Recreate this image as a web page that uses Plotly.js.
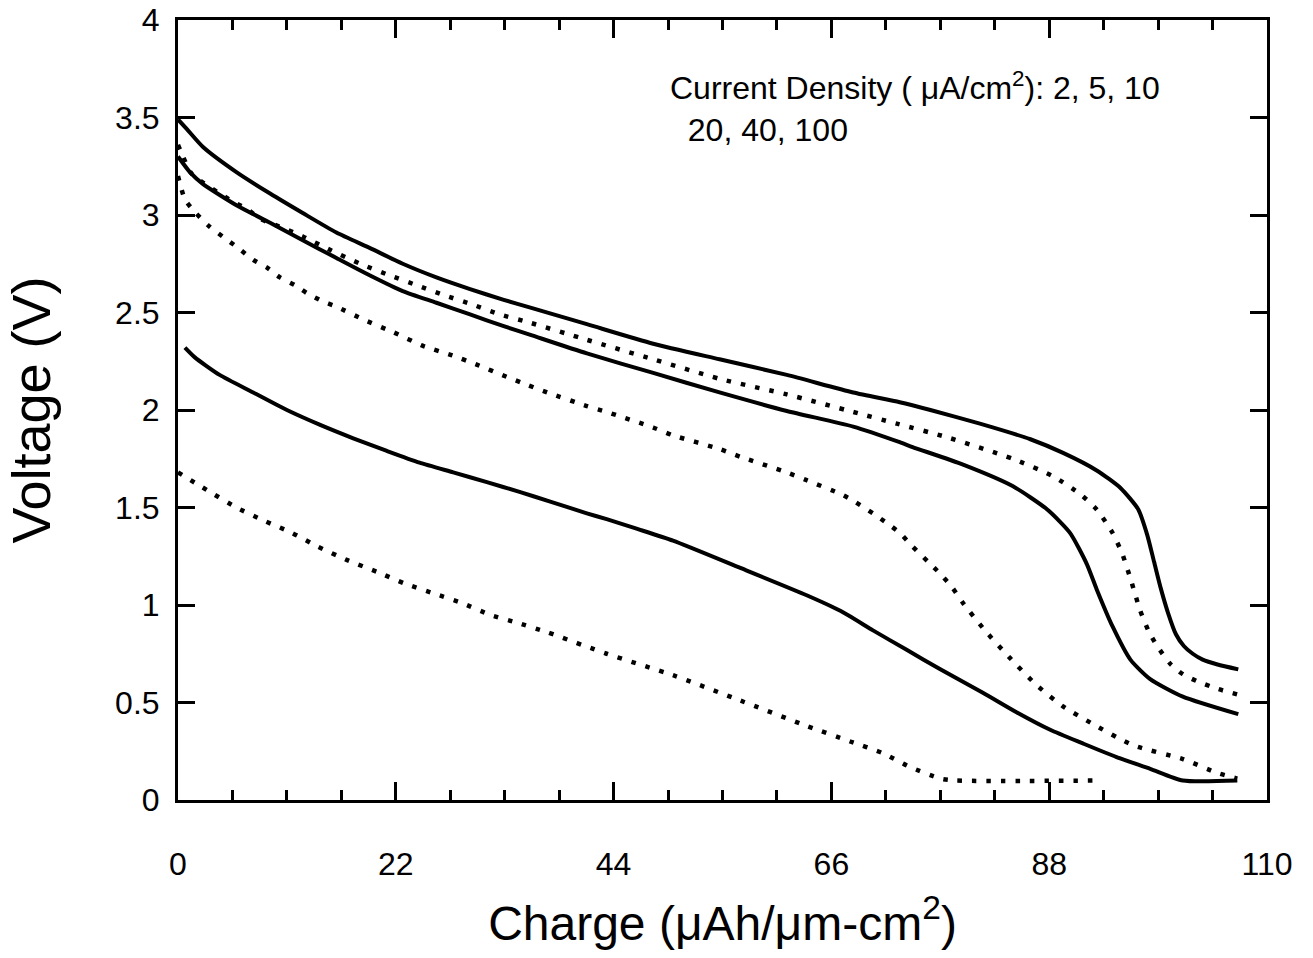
<!DOCTYPE html>
<html><head><meta charset="utf-8">
<script src="https://cdn.plot.ly/plotly-3.0.1.min.js"></script>
<style>html,body{margin:0;padding:0;background:#fff}#chart{width:1313px;height:958px}</style>
</head><body><div id="chart"></div>
<script>
// Discharge curves, Voltage (V) vs Charge (µAh/µm-cm²), one per current density (µA/cm²)
const charge_2  = [0, 0.9, 2.5, 5.9, 9.3, 12.6, 16.0, 19.4, 22.7, 26.1, 29.5, 32.9, 35.6, 41.3, 48.0, 54.7, 61.5, 68.2, 72.9, 76.0, 81.0, 86.1, 89.4, 92.8, 95.2, 97.0, 97.9, 98.6, 99.3, 100.0, 100.8, 101.6, 102.5, 103.5, 105.0, 107.1];
const volt_2    = [3.49, 3.44, 3.35, 3.22, 3.11, 3.01, 2.91, 2.83, 2.75, 2.68, 2.62, 2.565, 2.525, 2.44, 2.34, 2.26, 2.18, 2.09, 2.04, 2.00, 1.93, 1.85, 1.78, 1.69, 1.60, 1.49, 1.36, 1.22, 1.08, 0.96, 0.85, 0.79, 0.75, 0.72, 0.695, 0.67];

const charge_5  = [0, 0.5, 1.4, 5.5, 7.0, 8.3, 9.8, 12.6, 15.4, 18.4, 21.4, 24.1, 26.8, 29.8, 32.5, 35.4, 41.3, 48.0, 54.7, 61.5, 68.2, 72.6, 77.7, 84.3, 88.4, 91.1, 92.8, 94.4, 95.4, 96.3, 97.2, 98.1, 98.9, 100.2, 101.5, 102.9, 105.0, 107.1];
const volt_5    = [3.36, 3.30, 3.21, 3.07, 3.03, 2.98, 2.95, 2.89, 2.82, 2.75, 2.69, 2.64, 2.59, 2.54, 2.49, 2.45, 2.36, 2.26, 2.16, 2.08, 1.99, 1.93, 1.86, 1.75, 1.66, 1.57, 1.49, 1.37, 1.26, 1.12, 0.97, 0.86, 0.79, 0.70, 0.645, 0.61, 0.57, 0.54];

const charge_10 = [0, 1.2, 2.5, 5.9, 9.3, 12.6, 16.0, 19.4, 22.7, 26.1, 29.5, 32.9, 35.6, 41.3, 48.0, 54.7, 61.5, 68.2, 72.9, 74.2, 79.3, 84.3, 87.8, 90.1, 91.8, 92.8, 94.4, 96.2, 98.2, 101.5, 107.1];
const volt_10   = [3.30, 3.22, 3.16, 3.05, 2.96, 2.87, 2.78, 2.69, 2.61, 2.55, 2.49, 2.43, 2.385, 2.29, 2.19, 2.09, 1.995, 1.915, 1.835, 1.81, 1.72, 1.61, 1.49, 1.37, 1.21, 1.08, 0.89, 0.72, 0.62, 0.53, 0.44];

const charge_20 = [0, 0.7, 1.8, 3.2, 4.5, 6.1, 7.6, 9.0, 10.3, 11.8, 13.0, 14.5, 16.0, 18.9, 21.7, 24.7, 27.7, 30.3, 33.2, 34.7, 37.3, 41.3, 43.3, 48.0, 50.0, 54.7, 56.8, 61.5, 63.5, 66.9, 68.2, 70.2, 71.6, 72.9, 74.2, 75.8, 77.0, 78.2, 79.3, 81.5, 84.0, 86.7, 89.4, 92.4, 96.5, 101.5, 104.9, 107.0];
const volt_20   = [3.20, 3.08, 3.01, 2.94, 2.89, 2.83, 2.77, 2.73, 2.68, 2.64, 2.60, 2.56, 2.53, 2.46, 2.40, 2.33, 2.28, 2.23, 2.17, 2.14, 2.09, 2.02, 1.99, 1.91, 1.87, 1.80, 1.76, 1.68, 1.64, 1.57, 1.535, 1.47, 1.42, 1.37, 1.30, 1.22, 1.16, 1.09, 1.01, 0.87, 0.73, 0.59, 0.48, 0.39, 0.28, 0.21, 0.14, 0.11];

const charge_40 = [0.7, 1.7, 4.2, 7.6, 11.0, 14.3, 17.7, 21.1, 24.4, 27.8, 31.2, 34.5, 37.6, 41.3, 43.3, 46.4, 50.0, 56.8, 63.5, 66.9, 70.2, 73.6, 77.0, 81.3, 84.7, 88.1, 91.4, 94.8, 98.2, 101.5, 107.0];
const volt_40   = [2.32, 2.27, 2.18, 2.09, 2.00, 1.925, 1.855, 1.79, 1.73, 1.68, 1.63, 1.58, 1.53, 1.47, 1.44, 1.39, 1.33, 1.19, 1.05, 0.97, 0.87, 0.77, 0.67, 0.55, 0.45, 0.36, 0.29, 0.22, 0.16, 0.10, 0.10];

const charge_100 = [0, 2.9, 5.9, 8.8, 11.5, 14.1, 17.1, 20.1, 22.9, 25.8, 28.7, 31.5, 34.2, 37.3, 43.3, 50.0, 56.8, 63.5, 67.9, 71.2, 73.9, 77.0, 78.5, 93.1];
const volt_100   = [1.68, 1.59, 1.50, 1.43, 1.37, 1.30, 1.23, 1.17, 1.11, 1.06, 1.01, 0.95, 0.91, 0.86, 0.75, 0.64, 0.51, 0.38, 0.30, 0.24, 0.17, 0.11, 0.10, 0.10];

const xTickVals = [0, 22, 44, 66, 88, 110];
const xTickText = ['0', '22', '44', '66', '88', '110'];
const yTickVals = [0, 0.5, 1, 1.5, 2, 2.5, 3, 3.5, 4];
const yTickText = ['0', '0.5', '1', '1.5', '2', '2.5', '3', '3.5', '4'];

const FONT = '"Liberation Sans", Arial, Helvetica, sans-serif';
const solid = {color: '#000', width: 4, shape: 'spline', smoothing: 0.6};
const dotted = {color: '#000', width: 4.5, dash: '4.5px,10px', shape: 'spline', smoothing: 0.6};

const series = [
  {x: charge_2, y: volt_2, name: '2', line: solid},
  {x: charge_5, y: volt_5, name: '5', line: dotted},
  {x: charge_10, y: volt_10, name: '10', line: solid},
  {x: charge_20, y: volt_20, name: '20', line: dotted},
  {x: charge_40, y: volt_40, name: '40', line: solid},
  {x: charge_100, y: volt_100, name: '100', line: dotted}
];
const traces = series.map(s => ({type: 'scatter', mode: 'lines', x: s.x, y: s.y, name: s.name, line: s.line, hoverinfo: 'x+y+name'}));

const layout = {
  width: 1313, height: 958,
  margin: {l: 178, r: 46, t: 20, b: 158},
  paper_bgcolor: '#fff', plot_bgcolor: '#fff',
  showlegend: false,
  font: {family: FONT, color: '#000', size: 32},
  xaxis: {
    range: [0, 110], tickmode: 'array', tickvals: xTickVals, ticktext: xTickText,
    ticks: 'inside', ticklen: 18, tickwidth: 3, tickcolor: '#000',
    minor: {dtick: 5.5, tick0: 0, ticks: 'inside', ticklen: 10, tickwidth: 3, tickcolor: '#000', showgrid: false},
    showline: true, linewidth: 3, linecolor: '#000', mirror: 'allticks',
    showgrid: false, zeroline: false,
    ticklabelstandoff: 34,
    tickfont: {size: 32, family: FONT, color: '#000'},
    title: {text: 'Charge (μAh/μm-cm<sup>2</sup>)', font: {size: 48, family: FONT, color: '#000'}, standoff: 25}
  },
  yaxis: {
    range: [0, 4], tickmode: 'array', tickvals: yTickVals, ticktext: yTickText,
    ticks: 'inside', ticklen: 17, tickwidth: 3, tickcolor: '#000',
    showline: true, linewidth: 3, linecolor: '#000', mirror: 'allticks',
    showgrid: false, zeroline: false,
    ticklabelstandoff: 9,
    tickfont: {size: 32, family: FONT, color: '#000'},
    title: {text: 'Voltage (V)', font: {size: 54, family: FONT, color: '#000'}, standoff: 48}
  },
  annotations: [{
    xref: 'x', yref: 'y', x: 49.5, y: 3.775, xanchor: 'left', yanchor: 'top',
    text: 'Current Density ( μA/cm<sup>2</sup>): 2, 5, 10<br>\u00a0\u00a020, 40, 100',
    align: 'left', showarrow: false,
    font: {size: 32, family: FONT, color: '#000'}
  }]
};

Plotly.newPlot('chart', traces, layout, {displayModeBar: false, staticPlot: true});
</script>
</body></html>
